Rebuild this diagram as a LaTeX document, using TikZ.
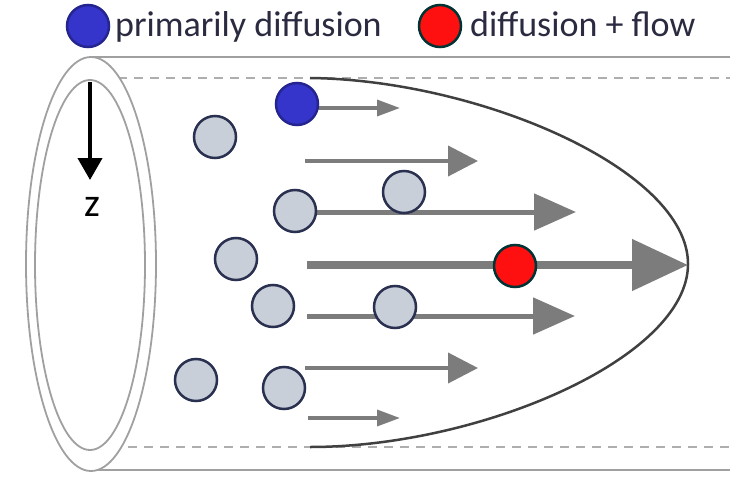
\documentclass[tikz,border=0pt]{standalone}
\usepackage{fontspec}
\setmainfont{Carlito}
\usetikzlibrary{arrows.meta}
\definecolor{txt}{HTML}{2A2A40}
\definecolor{pblue}{HTML}{3535CC}
\definecolor{pred}{HTML}{FF1010}
\definecolor{pgray}{HTML}{C8CFD8}
\definecolor{pedge}{HTML}{2A3050}
\definecolor{flow}{HTML}{7C7C7C}
\definecolor{tube}{HTML}{A0A0A0}
\tikzset{
  particle/.style={circle,draw=pedge,line width=2.5pt,fill=pgray,minimum size=42pt,inner sep=0pt},
  blueparticle/.style={particle,fill=pblue,draw=pblue!70!black},
  redparticle/.style={particle,fill=pred,draw=teal!40!black},
  legendtext/.style={anchor=base west,inner sep=0pt,text=txt,font=\fontsize{36}{40}\selectfont},
  tubeline/.style={draw=tube,line width=2.5pt},
  tubedash/.style={draw=tube!85,line width=2.5pt,dash pattern=on 9pt off 7pt},
  ring/.style={draw=tube,line width=1.8pt},
  flowS/.style={draw=flow,line width=3.5pt,-{Triangle[length=23pt,width=16pt]}},
  flowM/.style={draw=flow,line width=4pt,-{Triangle[length=30pt,width=30pt]}},
  flowL/.style={draw=flow,line width=5pt,-{Triangle[length=42pt,width=36pt]}},
  flowXL/.style={draw=flow,line width=8pt,-{Triangle[length=56pt,width=50pt]}},
}
\begin{document}
\begin{tikzpicture}[x=1pt,y=-1pt]
\useasboundingbox (0,0) rectangle (730,476);
% legend
\node[blueparticle] (lb) at (88,26) {};
\node[legendtext] (lbt) at (115,37) {primarily diffusion};
\node[redparticle] (lr) at (440,26) {};
\node[legendtext] (lrt) at (470,37) {diffusion + flow};
% tube
\coordinate (ts1) at (92,57);  \coordinate (te1) at (730,57);
\coordinate (ts2) at (118,78); \coordinate (te2) at (730,78);
\coordinate (bs2) at (128,447); \coordinate (be2) at (730,447);
\coordinate (bs1) at (98,470); \coordinate (be1) at (730,470);
\draw[tubeline] (ts1) -- (te1);
\draw[tubedash] (ts2) -- (te2);
\draw[tubedash] (bs2) -- (be2);
\draw[tubeline] (bs1) -- (be1);
% cross-section rings
\draw[ring,fill=white] (91,264) ellipse [x radius=65, y radius=207];
\draw[ring] (90,265) ellipse [x radius=55, y radius=185];
% z axis
\coordinate (za) at (90,82);
\coordinate (zb) at (90,180);
\draw[line width=4pt,-{Triangle[length=22pt,width=24pt]}] (za) -- (zb);
\node[anchor=base,inner sep=0pt,font=\fontsize{40}{44}\selectfont] (zl) at (92,216) {z};
% velocity profile
\coordinate (p0) at (310,78);
\coordinate (pv) at (688,264);
\coordinate (p1) at (310,447);
\draw[draw=black!75,line width=2.5pt] (p0) .. controls (480,80) and (688,170) .. (pv)
  .. controls (688,358) and (480,447) .. (p1);
% flow arrows
\coordinate (a1s) at (318,108); \coordinate (a1e) at (400,108);
\coordinate (a2s) at (305,161); \coordinate (a2e) at (478,161);
\coordinate (a3s) at (314,212); \coordinate (a3e) at (576,212);
\coordinate (a4s) at (307,265); \coordinate (a4e) at (688,265);
\coordinate (a5s) at (307,316); \coordinate (a5e) at (575,316);
\coordinate (a6s) at (305,368); \coordinate (a6e) at (478,368);
\coordinate (a7s) at (308,418); \coordinate (a7e) at (400,418);
\draw[flowS] (a1s) -- (a1e);
\draw[flowM] (a2s) -- (a2e);
\draw[flowL] (a3s) -- (a3e);
\draw[flowXL] (a4s) -- (a4e);
\draw[flowL] (a5s) -- (a5e);
\draw[flowM] (a6s) -- (a6e);
\draw[flowS] (a7s) -- (a7e);
% particles
\node[blueparticle] (b1) at (297,104) {};
\node[particle] (g1) at (215,137) {};
\node[particle] (g2) at (295,211) {};
\node[particle] (g3) at (404,192) {};
\node[particle] (g4) at (236,259) {};
\node[particle] (g5) at (273,306) {};
\node[particle] (g6) at (395,307) {};
\node[particle] (g7) at (196,380) {};
\node[particle] (g8) at (284,388) {};
\node[redparticle] (r1) at (515,266) {};
\end{tikzpicture}
\end{document}
